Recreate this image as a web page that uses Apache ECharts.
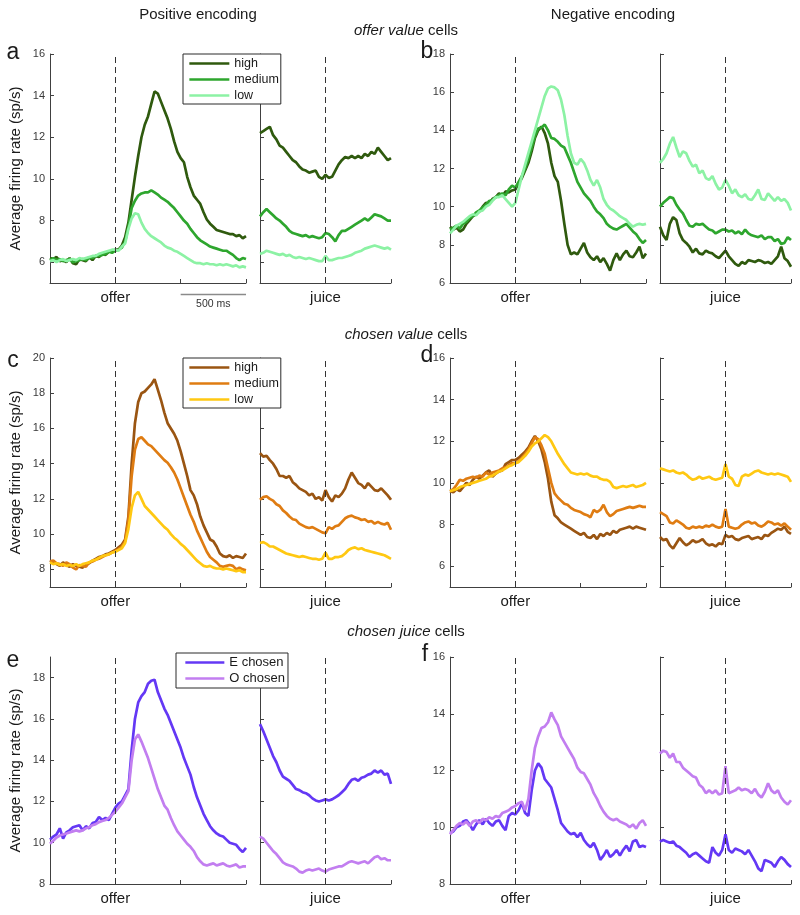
<!DOCTYPE html>
<html><head><meta charset="utf-8">
<script src="https://cdn.jsdelivr.net/npm/echarts@6/dist/echarts.min.js"></script>
<style>html,body{margin:0;padding:0;background:#fff}#c{width:800px;height:915px}</style>
</head><body><div id="c"></div>
<script>
// ---- time grids (ms) ----
const T_OFFER = []; for (let t = -500; t <= 1000; t += 25) T_OFFER.push(t);
const T_JUICE = []; for (let t = -500; t <= 500; t += 25) T_JUICE.push(t);

// ---- tick labels ----
const ticksA = [6,8,10,12,14,16];
const ticksB = [6,8,10,12,14,16,18];
const ticksC = [8,10,12,14,16,18,20];
const ticksD = [6,8,10,12,14,16];
const ticksE = [8,10,12,14,16,18];
const ticksF = [8,10,12,14,16];
const valueNames = ['high','medium','low'];
const juiceNames = ['E chosen','O chosen'];

// ---- panel a: offer value, positive ----
const aOffHigh = [6.2,6.15,6.25,6.05,6.1,6.0,6.2,5.95,5.9,6.15,
6.1,6.05,6.25,6.1,6.3,6.25,6.4,6.35,6.5,6.5,
6.6,6.6,6.8,7.2,7.9,9.0,10.1,11.1,12.0,12.6,
13.0,13.6,14.2,14.1,13.7,13.3,12.9,12.4,11.8,11.3,
11.0,10.8,10.1,9.6,9.2,9.0,8.8,8.4,8.05,7.85,
7.7,7.55,7.5,7.45,7.4,7.35,7.35,7.25,7.3,7.15,
7.25];
const aOffMed = [6.1,6.2,6.1,6.15,6.05,6.1,6.15,6.0,6.05,6.1,
6.15,6.1,6.2,6.2,6.3,6.3,6.35,6.4,6.5,6.45,
6.55,6.6,6.7,7.0,7.7,8.6,8.95,9.2,9.3,9.35,
9.35,9.45,9.35,9.25,9.1,9.0,8.9,8.75,8.6,8.4,
8.2,8.0,7.85,7.6,7.4,7.2,7.05,6.95,6.85,6.75,
6.7,6.65,6.6,6.55,6.55,6.45,6.35,6.2,6.1,6.2,
6.15];
const aOffLow = [6.05,6.1,6.0,6.1,6.15,6.05,6.1,6.15,6.1,6.2,
6.15,6.2,6.25,6.3,6.3,6.4,6.45,6.5,6.55,6.6,
6.6,6.55,6.75,6.9,7.6,8.1,8.35,8.3,7.9,7.6,
7.4,7.25,7.15,7.05,6.95,6.8,6.7,6.65,6.55,6.5,
6.4,6.3,6.2,6.1,6.0,5.95,5.95,5.9,5.95,5.9,
5.9,5.85,5.9,5.85,5.9,5.85,5.8,5.85,5.75,5.8,
5.75];
const aJuiHigh = [12.2,12.3,12.4,12.5,12.1,11.9,11.6,11.5,11.3,11.1,
10.9,10.8,10.6,10.45,10.4,10.3,10.35,10.4,10.1,10.0,
10.2,10.05,10.1,10.4,10.7,10.9,11.05,11.0,11.1,11.0,
11.1,11.0,11.2,11.1,11.3,11.2,11.5,11.3,11.1,10.9,
11.0];
const aJuiMed = [8.2,8.4,8.55,8.4,8.25,8.1,8.0,7.85,7.7,7.5,
7.4,7.35,7.3,7.25,7.3,7.2,7.25,7.2,7.15,7.2,
7.4,7.35,7.2,7.0,7.3,7.5,7.5,7.6,7.7,7.8,
7.9,8.0,8.1,8.0,8.15,8.3,8.25,8.2,8.1,8.0,
8.0];
const aJuiLow = [6.4,6.45,6.55,6.5,6.45,6.4,6.35,6.4,6.3,6.35,
6.25,6.2,6.25,6.2,6.15,6.2,6.15,6.1,6.05,6.05,
6.3,6.1,6.1,6.15,6.2,6.2,6.25,6.3,6.35,6.45,
6.5,6.55,6.65,6.7,6.75,6.8,6.75,6.7,6.65,6.7,
6.6];

// ---- panel b: offer value, negative ----
const bOffHigh = [8.95,8.8,8.9,8.7,8.8,9.1,9.3,9.5,9.6,9.75,
10.0,10.2,10.15,10.4,10.5,10.7,10.55,10.8,10.75,10.85,
10.9,11.2,11.5,11.9,12.3,12.9,13.6,14.0,14.2,13.85,
13.3,12.3,11.6,11.3,10.3,9.1,8.0,7.5,7.6,7.5,
7.8,8.1,7.6,7.35,7.2,7.4,7.1,7.3,7.0,6.65,
7.2,7.55,7.2,7.5,7.7,7.4,7.35,7.6,7.9,7.3,
7.55];
const bOffMed = [8.8,8.9,9.0,8.85,9.1,9.2,9.4,9.5,9.7,9.8,
9.95,10.1,10.3,10.35,10.5,10.6,10.7,10.6,10.9,11.1,
11.0,11.3,11.6,12.0,12.5,13.1,13.7,14.1,14.15,14.3,
14.0,13.6,13.55,13.4,13.2,13.1,12.7,12.3,11.8,11.3,
11.0,10.7,10.5,10.3,10.0,9.75,9.6,9.4,9.1,8.95,
8.85,8.8,8.9,9.0,9.1,8.9,8.7,8.55,8.3,8.1,
8.25];
const bOffLow = [8.6,8.8,9.0,9.1,9.2,9.35,9.5,9.6,9.55,9.75,
9.8,10.0,10.1,10.3,10.5,10.5,10.6,10.4,10.2,10.0,
10.2,10.9,11.6,12.2,12.8,13.4,14.0,14.6,15.2,15.8,
16.2,16.3,16.25,16.1,15.6,14.8,13.7,12.8,12.3,12.2,
12.5,12.3,11.9,11.4,11.1,11.4,11.0,10.4,10.1,9.9,
9.8,9.65,9.5,9.4,9.3,9.1,8.95,9.05,9.1,9.05,
9.1];
const bJuiHigh = [8.95,8.5,8.25,9.1,9.45,9.3,8.6,8.25,8.1,7.9,
7.6,7.8,7.55,7.5,7.7,7.6,7.55,7.4,7.3,7.5,
7.7,7.4,7.2,7.0,6.9,7.1,7.0,7.2,7.15,7.1,
7.2,7.15,7.05,7.1,7.0,7.2,7.4,7.9,7.3,7.15,
6.85];
const bJuiMed = [10.0,10.2,10.35,10.5,10.45,10.1,9.85,9.65,9.3,9.0,
8.95,9.1,9.05,9.1,8.95,8.8,8.75,8.6,8.7,8.8,
8.8,8.7,8.75,8.6,8.7,8.55,8.8,8.6,8.5,8.45,
8.4,8.5,8.3,8.4,8.4,8.2,8.3,8.05,8.1,8.4,
8.25];
const bJuiLow = [12.3,12.5,12.8,13.3,13.65,13.1,12.6,12.9,12.8,12.4,
12.1,12.2,11.75,11.9,11.5,11.4,11.6,11.2,10.9,11.0,
11.4,11.1,10.7,10.9,10.6,10.5,10.65,10.4,10.35,10.6,
10.9,10.4,10.35,10.7,10.5,10.3,10.5,10.3,10.4,10.2,
9.8];

// ---- panel c: chosen value, positive ----
const cOffHigh = [8.5,8.4,8.3,8.2,8.4,8.25,8.15,8.3,8.2,8.15,
8.1,8.3,8.35,8.5,8.6,8.7,8.75,8.85,8.9,9.0,
9.1,9.25,9.4,9.7,11.0,14.0,16.3,17.5,18.0,18.1,
18.3,18.5,18.8,18.2,17.6,16.9,16.3,16.0,15.7,15.3,
14.7,14.0,13.3,12.5,12.2,11.7,11.0,10.5,10.1,9.7,
9.6,9.3,8.9,8.75,8.7,8.8,8.65,8.75,8.7,8.65,
8.9];
const cOffMed = [8.45,8.5,8.35,8.3,8.2,8.4,8.3,8.1,8.0,8.25,
8.2,8.15,8.4,8.45,8.55,8.6,8.7,8.8,8.85,8.95,
9.05,9.15,9.3,9.6,10.8,13.3,14.8,15.4,15.5,15.3,
15.1,15.0,14.8,14.6,14.4,14.2,14.05,13.8,13.5,13.1,
12.6,12.1,11.6,11.1,10.7,10.2,9.8,9.4,9.0,8.7,
8.55,8.4,8.2,8.15,8.2,8.25,8.2,8.0,8.1,8.0,
7.95];
const cOffLow = [8.4,8.3,8.35,8.25,8.3,8.2,8.25,8.2,8.3,8.2,
8.3,8.35,8.4,8.5,8.55,8.65,8.75,8.8,8.85,8.95,
9.0,9.1,9.2,9.5,10.3,11.5,12.2,12.4,12.0,11.6,
11.4,11.2,11.0,10.8,10.6,10.4,10.25,10.0,9.8,9.65,
9.45,9.3,9.1,8.9,8.7,8.5,8.35,8.2,8.15,8.2,
8.1,8.05,8.05,8.0,8.05,8.0,7.95,7.9,7.95,7.85,
7.85];
const cJuiHigh = [14.6,14.4,14.45,14.2,14.0,13.7,13.3,13.3,13.2,13.3,
12.95,12.8,12.6,12.5,12.4,12.2,12.3,12.0,12.1,11.9,
12.5,12.1,11.85,12.2,12.1,12.3,12.6,13.1,13.5,13.2,
12.9,12.8,12.6,12.9,12.7,12.5,12.45,12.6,12.4,12.2,
11.95];
const cJuiMed = [11.95,12.1,12.15,12.0,11.9,11.7,11.6,11.35,11.2,11.0,
10.85,10.8,10.6,10.5,10.4,10.35,10.4,10.3,10.2,10.1,
10.05,10.4,10.3,10.45,10.5,10.7,10.9,11.0,11.05,10.95,
10.9,10.8,10.85,10.7,10.75,10.6,10.7,10.6,10.55,10.65,
10.25];
const cJuiLow = [9.5,9.55,9.45,9.3,9.3,9.2,9.1,9.0,8.9,8.85,
8.8,8.75,8.7,8.75,8.7,8.65,8.6,8.6,8.55,8.6,
8.95,8.6,8.6,8.7,8.7,8.75,8.9,9.1,9.2,9.25,
9.15,9.2,9.1,9.05,9.0,8.95,8.9,8.85,8.8,8.7,
8.6];

// ---- panel d: chosen value, negative ----
const dOffHigh = [9.6,9.55,9.7,9.6,9.8,10.0,9.9,10.15,10.3,10.2,
10.35,10.5,10.6,10.3,10.45,10.55,10.6,10.9,11.0,11.1,
11.1,11.2,11.35,11.5,11.7,12.0,12.25,12.0,11.6,11.0,
10.2,9.1,8.45,8.3,8.1,8.0,7.9,7.8,7.7,7.6,
7.5,7.6,7.4,7.35,7.5,7.3,7.55,7.45,7.6,7.5,
7.7,7.6,7.75,7.8,7.85,7.9,7.8,7.9,7.85,7.8,
7.75];
const dOffMed = [9.6,9.7,9.9,10.15,10.1,10.2,10.25,10.3,10.25,10.35,
10.3,10.5,10.4,10.5,10.55,10.6,10.7,10.75,10.85,10.95,
10.95,11.05,11.2,11.4,11.6,11.9,12.2,12.1,11.8,11.4,
10.7,10.0,9.5,9.3,9.15,9.0,8.95,8.8,8.7,8.65,
8.6,8.5,8.45,8.35,8.7,8.6,8.7,8.95,8.6,8.4,
8.5,8.65,8.7,8.75,8.8,8.85,8.8,8.85,8.9,8.85,
8.85];
const dOffLow = [9.6,9.65,9.7,9.8,9.85,9.9,9.95,10.0,10.05,10.1,
10.15,10.2,10.3,10.35,10.45,10.55,10.6,10.7,10.8,10.85,
10.95,11.0,11.15,11.3,11.5,11.75,11.9,12.0,12.15,12.3,
12.2,12.0,11.7,11.4,11.15,10.9,10.7,10.5,10.45,10.4,
10.45,10.4,10.45,10.35,10.3,10.3,10.2,10.15,10.15,10.05,
9.8,9.75,9.8,9.85,9.8,9.85,9.9,9.8,9.85,9.9,
10.0];
const dJuiHigh = [7.4,7.25,7.3,7.0,6.85,7.1,7.35,7.15,7.0,7.1,
7.25,7.15,7.2,7.3,7.1,7.0,7.05,6.95,7.1,7.05,
7.5,7.4,7.45,7.3,7.25,7.35,7.4,7.45,7.3,7.35,
7.4,7.3,7.5,7.45,7.6,7.7,7.8,7.75,7.9,7.65,
7.55];
const dJuiMed = [8.6,8.5,8.4,8.1,8.05,8.2,8.1,8.0,7.85,7.8,
7.9,7.85,7.9,7.85,7.95,7.9,8.0,7.9,7.85,7.9,
8.75,7.9,7.85,7.8,7.85,8.0,8.1,8.15,8.05,8.1,
7.95,7.9,8.0,8.15,8.1,8.0,8.05,7.95,8.05,7.9,
7.75];
const dJuiLow = [10.7,10.65,10.6,10.55,10.6,10.5,10.45,10.5,10.4,10.25,
10.15,10.2,10.3,10.2,10.25,10.3,10.2,10.15,10.2,10.25,
10.9,10.3,10.2,9.9,9.85,10.3,10.4,10.35,10.45,10.55,
10.6,10.5,10.45,10.4,10.45,10.4,10.45,10.4,10.35,10.3,
10.05];

// ---- panel e: chosen juice, positive ----
const eOffE = [10.15,10.3,10.4,10.7,10.2,10.5,10.6,10.75,10.8,10.85,
10.6,10.8,10.7,10.95,11.0,11.25,11.1,11.2,11.1,11.4,
11.7,11.9,12.0,12.3,12.6,14.5,16.0,16.8,17.1,17.3,
17.7,17.85,17.9,17.3,16.9,16.5,16.2,15.8,15.4,15.0,
14.6,14.1,13.7,13.3,12.7,12.2,11.8,11.4,11.1,10.8,
10.6,10.45,10.35,10.3,10.15,10.0,9.95,9.9,9.7,9.55,
9.75];
const eOffO = [9.95,10.1,10.25,10.35,10.4,10.45,10.5,10.55,10.6,10.55,
10.6,10.7,10.75,10.85,10.9,11.0,11.05,11.1,11.2,11.35,
11.5,11.7,11.9,12.2,12.5,14.0,15.0,15.25,14.9,14.5,
14.1,13.6,13.1,12.6,12.2,11.8,11.6,11.2,10.85,10.55,
10.35,10.15,9.95,9.8,9.6,9.3,9.1,8.95,8.9,8.95,
9.0,8.9,8.95,9.0,8.9,8.85,8.9,8.95,8.8,8.85,
8.85];
const eJuiE = [15.75,15.4,15.0,14.6,14.2,13.9,13.5,13.2,13.1,13.0,
12.8,12.6,12.55,12.45,12.4,12.3,12.15,12.05,12.0,12.05,
12.1,12.05,12.1,12.2,12.3,12.45,12.6,12.85,13.05,13.1,
13.0,13.15,13.2,13.3,13.35,13.5,13.4,13.5,13.3,13.35,
12.85];
const eJuiO = [10.3,10.2,10.0,9.8,9.6,9.45,9.25,9.05,8.95,8.9,
8.85,8.75,8.6,8.55,8.65,8.7,8.65,8.7,8.75,8.65,
8.6,8.7,8.75,8.8,8.85,8.85,8.95,9.05,9.1,9.05,
9.0,9.05,9.1,9.0,9.15,9.3,9.35,9.2,9.25,9.15,
9.15];

// ---- panel f: chosen juice, negative ----
const fOffE = [9.8,9.85,10.0,10.05,10.2,10.25,10.1,9.9,10.1,10.25,
10.1,10.3,10.15,10.05,10.2,10.25,10.05,9.9,10.4,10.5,
10.45,10.6,10.85,10.5,10.4,11.3,12.0,12.25,12.1,11.7,
11.55,11.4,11.0,10.6,10.15,10.0,9.85,9.75,9.8,9.65,
9.8,9.55,9.4,9.3,9.45,9.2,8.85,9.0,9.2,8.95,
9.05,9.2,9.0,9.2,9.35,9.15,9.5,9.55,9.3,9.35,
9.3];
const fOffO = [9.75,9.9,10.05,10.15,10.1,10.2,10.05,10.2,10.25,10.15,
10.3,10.25,10.35,10.3,10.4,10.35,10.5,10.55,10.6,10.7,
10.75,10.85,10.9,10.6,11.0,12.0,12.8,13.2,13.5,13.55,
13.7,14.05,13.8,13.6,13.2,13.0,12.8,12.6,12.4,12.1,
11.95,11.9,11.7,11.5,11.2,11.0,10.75,10.55,10.4,10.3,
10.25,10.3,10.2,10.15,10.1,10.0,10.1,9.95,10.15,10.25,
10.05];
const fJuiE = [9.5,9.55,9.5,9.45,9.5,9.35,9.3,9.2,9.1,8.95,
9.05,9.1,9.0,8.9,8.8,8.75,9.3,9.1,9.0,9.2,
9.75,9.2,9.1,9.25,9.2,9.15,9.05,9.2,9.0,8.8,
8.55,8.45,8.85,8.8,8.75,8.6,8.8,8.95,8.85,8.7,
8.6];
const fJuiO = [12.6,12.7,12.65,12.45,12.6,12.3,12.3,12.1,12.0,11.9,
11.8,11.75,11.5,11.4,11.2,11.3,11.2,11.3,11.15,11.2,
12.15,11.2,11.25,11.3,11.4,11.3,11.35,11.3,11.2,11.35,
11.15,11.05,11.25,11.55,11.3,11.2,11.3,11.05,10.9,10.8,
10.95];

// ---- styling ----
const FONT = 'Liberation Sans, Arial, Helvetica, sans-serif';
const GREENS = ['#2f5a0e', '#2ea62e', '#8cf2a4'];
const BROWNS = ['#9a5512', '#df7c12', '#ffc812'];
const PURPLES = ['#6438f5', '#c27ef0'];
const AXIS_C = '#404040';

const OFFER_LEFT = [50, 450], JUICE_LEFT = [260, 660];
const OFFER_W = 196, JUICE_W = 131;
const ROW_TOP = [54, 358, 657], ROW_H = [229, 229, 227];

const panels = [
  {id:'a', col:0, row:0, ymin:5, ymax:16, ticks:ticksA, names:valueNames, colors:GREENS,
   offer:[aOffHigh,aOffMed,aOffLow], juice:[aJuiHigh,aJuiMed,aJuiLow],
   legend:{left:183, top:54, pad:[3,2,2,5], fs:12.5, iw:40, gap:3}},
  {id:'b', col:1, row:0, ymin:6, ymax:18, ticks:ticksB, names:valueNames, colors:GREENS,
   offer:[bOffHigh,bOffMed,bOffLow], juice:[bJuiHigh,bJuiMed,bJuiLow]},
  {id:'c', col:0, row:1, ymin:7, ymax:20, ticks:ticksC, names:valueNames, colors:BROWNS,
   offer:[cOffHigh,cOffMed,cOffLow], juice:[cJuiHigh,cJuiMed,cJuiLow],
   legend:{left:183, top:358, pad:[3,2,2,5], fs:12.5, iw:40, gap:3}},
  {id:'d', col:1, row:1, ymin:5, ymax:16, ticks:ticksD, names:valueNames, colors:BROWNS,
   offer:[dOffHigh,dOffMed,dOffLow], juice:[dJuiHigh,dJuiMed,dJuiLow]},
  {id:'e', col:0, row:2, ymin:8, ymax:19, ticks:ticksE, names:juiceNames, colors:PURPLES,
   offer:[eOffE,eOffO], juice:[eJuiE,eJuiO],
   legend:{left:176, top:653, pad:[3,3,3,8], fs:13, iw:39, gap:3}},
  {id:'f', col:1, row:2, ymin:8, ymax:16, ticks:ticksF, names:juiceNames, colors:PURPLES,
   offer:[fOffE,fOffO], juice:[fJuiE,fJuiO]}
];

const pair = (ts, vs) => ts.map((t, i) => [t, vs[i]]);

const grid = [], xAxis = [], yAxis = [], series = [], legend = [];
panels.forEach(p => {
  ['offer','juice'].forEach((kind, k) => {
    const gi = grid.length;
    const isOffer = k === 0;
    grid.push({
      left: isOffer ? OFFER_LEFT[p.col] : JUICE_LEFT[p.col],
      top: ROW_TOP[p.row],
      width: isOffer ? OFFER_W : JUICE_W,
      height: ROW_H[p.row],
      show: false, containLabel: false
    });
    xAxis.push({
      type: 'value', gridIndex: gi,
      min: -500, max: isOffer ? 1000 : 500,
      axisLine: {show: true, onZero: false, lineStyle: {color: AXIS_C, width: 1}},
      axisTick: {show: true, inside: true, length: 4, lineStyle: {color: AXIS_C},
                 customValues: isOffer ? [-500, 0, 500, 1000] : [-500, 0, 500]},
      axisLabel: {show: true, customValues: [0], formatter: () => kind,
                  fontSize: 15, color: '#1a1a1a', margin: 7, fontFamily: FONT},
      splitLine: {show: false}
    });
    const ya = {
      type: 'value', gridIndex: gi, min: p.ymin, max: p.ymax,
      axisLine: {show: true, onZero: false, lineStyle: {color: AXIS_C, width: 1}},
      axisTick: {show: true, inside: true, length: 4, lineStyle: {color: AXIS_C}, customValues: p.ticks},
      axisLabel: {show: isOffer, customValues: p.ticks, fontSize: 11, color: '#3a3a3a', margin: 5, fontFamily: FONT},
      splitLine: {show: false}
    };
    if (isOffer && p.col === 0) {
      ya.name = 'Average firing rate (sp/s)';
      ya.nameLocation = 'middle';
      ya.nameGap = 27;
      ya.nameTextStyle = {fontSize: 15, color: '#1a1a1a', fontFamily: FONT};
    }
    yAxis.push(ya);
    const arrs = isOffer ? p.offer : p.juice;
    const ts = isOffer ? T_OFFER : T_JUICE;
    arrs.forEach((vals, si) => {
      const s = {
        type: 'line', name: p.id + '|' + p.names[si],
        xAxisIndex: gi, yAxisIndex: gi,
        data: pair(ts, vals),
        symbol: 'none', showSymbol: false, silent: true, animation: false,
        lineStyle: {width: 2.7, color: p.colors[si]},
        itemStyle: {color: p.colors[si]},
        z: 2 + si
      };
      if (si === 0) {
        s.markLine = {
          silent: true, symbol: ['none', 'none'], animation: false,
          label: {show: false},
          lineStyle: {color: '#333', type: [6, 4], width: 1},
          data: [{xAxis: 0}]
        };
      }
      series.push(s);
    });
  });
  if (p.legend) {
    const L = p.legend;
    legend.push({
      data: p.names.map(n => p.id + '|' + n),
      formatter: n => n.split('|')[1],
      left: L.left, top: L.top, orient: 'vertical',
      backgroundColor: '#fff', borderColor: '#2a2a2a', borderWidth: 1, borderRadius: 0,
      padding: L.pad, itemGap: L.gap, itemWidth: L.iw, itemHeight: 14,
      itemStyle: {opacity: 0},
      lineStyle: {width: 2.7},
      textStyle: {fontSize: L.fs, color: '#1a1a1a', fontFamily: FONT},
      selectedMode: false, z: 20
    });
  }
});

const chart = echarts.init(document.getElementById('c'), null, {renderer: 'canvas'});
chart.setOption({
  animation: false,
  backgroundColor: '#fff',
  textStyle: {fontFamily: FONT},
  grid, xAxis, yAxis, series, legend
});

// ---- annotations ----
const txt = (text, x, y, size, extra) => ({
  type: 'text', silent: true, z: 30,
  style: Object.assign({text, x, y, font: size + 'px ' + FONT, fill: '#1a1a1a',
    align: 'center', verticalAlign: 'middle'}, extra || {})
});
const richTitle = (a, b, x, y) => ({
  type: 'text', silent: true, z: 30,
  style: {text: '{i|' + a + '} ' + b, x, y, fill: '#1a1a1a', fontSize: 15, fontFamily: FONT,
    align: 'center', verticalAlign: 'middle',
    rich: {i: {fontStyle: 'italic', fontSize: 15, fontFamily: FONT, fill: '#1a1a1a'}}}
});
const graphics = [
  txt('Positive encoding', 198, 15, 15),
  txt('Negative encoding', 613, 15, 15),
  richTitle('offer value', 'cells', 406, 31),
  richTitle('chosen value', 'cells', 406, 335),
  richTitle('chosen juice', 'cells', 406, 632),
  txt('a', 13, 53, 23), txt('b', 427, 52, 23),
  txt('c', 13, 361, 23), txt('d', 427, 356, 23),
  txt('e', 13, 661, 23), txt('f', 425, 655, 23)
];
// 500 ms scale bar under panel a's offer axis, placed through the axis scale
const xs = chart.convertToPixel({xAxisIndex: 0}, 500);
const xe = chart.convertToPixel({xAxisIndex: 0}, 1000);
const yb = chart.convertToPixel({yAxisIndex: 0}, 5);
graphics.push({type: 'line', silent: true, z: 30,
  shape: {x1: xs, y1: yb + 11.5, x2: xe, y2: yb + 11.5},
  style: {stroke: '#8a8a8a', lineWidth: 1.5}});
graphics.push(txt('500 ms', (xs + xe) / 2, yb + 21, 10.5, {fill: '#333'}));
chart.setOption({graphic: graphics});
</script>
</body></html>
